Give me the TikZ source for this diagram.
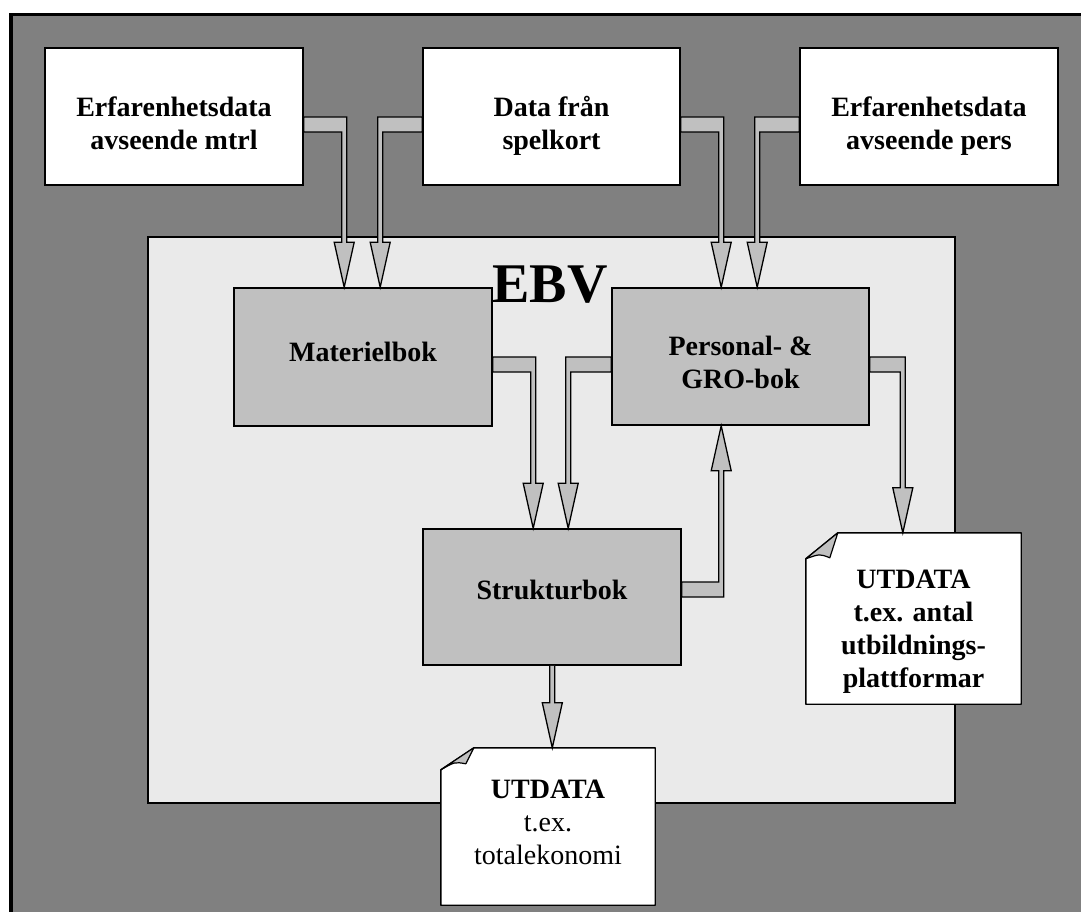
\documentclass[tikz,border=0pt]{standalone}
\usepackage{fontspec}
\setmainfont{Liberation Serif}
\usetikzlibrary{calc}
\definecolor{outergrey}{HTML}{808080}
\definecolor{ebvgrey}{HTML}{EAEAEA}
\definecolor{bookgrey}{HTML}{C0C0C0}
\newcommand\tstr{\rule{0pt}{22pt}}
\newcommand\bstr{\rule[-8pt]{0pt}{8pt}}
\newcommand\hvarrow[2]{%
\draw[arrowshape] let \p1=(#1), \p2=(#2), \n1={sign(\x2-\x1)}, \n2={sign(\y2-\y1)} in
 ({\x1},{\y1-(\n2)*7.5pt}) -- ({\x2+(\n1)*2.5pt},{\y1-(\n2)*7.5pt})
 -- ({\x2+(\n1)*2.5pt},{\y2-(\n2)*45pt}) -- ({\x2+(\n1)*10pt},{\y2-(\n2)*45pt})
 -- (\x2,\y2) -- ({\x2-(\n1)*10pt},{\y2-(\n2)*45pt}) -- ({\x2-(\n1)*2.5pt},{\y2-(\n2)*45pt})
 -- ({\x2-(\n1)*2.5pt},{\y1+(\n2)*7.5pt}) -- ({\x1},{\y1+(\n2)*7.5pt}) -- cycle;}
\newcommand\varrow[2]{%
\draw[arrowshape] let \p1=(#1), \p2=(#2) in
 ({\x2-2.5pt},{\y1}) -- ({\x2-2.5pt},{\y2+45pt}) -- ({\x2-10pt},{\y2+45pt})
 -- (\x2,\y2) -- ({\x2+10pt},{\y2+45pt}) -- ({\x2+2.5pt},{\y2+45pt}) -- ({\x2+2.5pt},{\y1});}
\tikzset{
 whitebox/.style={draw, fill=white, line width=1.6pt, inner sep=0pt, minimum width=258pt, minimum height=137pt},
 bookbox/.style={draw, fill=bookgrey, line width=1.6pt, inner sep=0pt, minimum width=258pt, minimum height=137pt},
 docarea/.style={inner sep=0pt},
 docline/.style={draw, fill=white, line width=1.4pt, line join=round},
 curl/.style={draw, fill=bookgrey, line width=1.2pt, line join=round},
 lbl/.style={font=\fontsize{28}{33}\selectfont\bfseries, align=center, inner sep=0pt},
 arrowshape/.style={draw=black, fill=bookgrey, line width=1.3pt, line join=miter}
}
\begin{document}
\begin{tikzpicture}[x=1pt,y=-1pt]
\useasboundingbox (0,0) rectangle (1081,912);
\clip (0,0) rectangle (1081,912);
\draw[line width=3.4pt, fill=outergrey] (11,14.3) rectangle (1100,930);

% top boxes
\node[whitebox] (b1) at (174,116.5) {};
\node[whitebox, minimum width=257pt] (b2) at (551.5,116.5) {};
\node[whitebox] (b3) at (929,116.5) {};
\node[lbl] (t1) at (174,126.5) {\tstr Erfarenhetsdata\\avseende mtrl\bstr};
\node[lbl] (t2) at (551.5,126.5) {\tstr Data från\\spelkort\bstr};
\node[lbl] (t3) at (929,126.5) {\tstr Erfarenhetsdata\\avseende pers\bstr};

% EBV area
\node[draw, fill=ebvgrey, line width=1.8pt, inner sep=0pt, minimum width=807pt, minimum height=566pt] (ebv) at (551.5,520) {};
\node[font=\fontsize{56}{60}\selectfont\bfseries, anchor=base, inner sep=0pt] (ebvt) at (550,302) {EBV};

% books
\node[bookbox, minimum height=138pt] (mat) at (363,357) {};
\node[bookbox, minimum width=257pt] (pers) at (740.5,356.5) {};
\node[bookbox, minimum height=136pt] (strukt) at (552,597) {};
\node[lbl, anchor=base] (tmat) at (363,361) {Materielbok};
\node[lbl] (tpers) at (740.5,364.5) {\tstr Personal- \&\\GRO-bok\bstr};
\node[lbl, anchor=base] (tstrukt) at (552,599) {Strukturbok};

% documents
\node[docarea, minimum width=215pt, minimum height=171pt] (docR) at (913.5,618.5) {};
\draw[docline] ($(docR.north west)+(0,26)$) -- ($(docR.north west)+(32,0)$) -- (docR.north east) -- (docR.south east) -- (docR.south west) -- cycle;
\draw[curl] ($(docR.north west)+(32,0)$) -- ($(docR.north west)+(24,25)$) .. controls ($(docR.north west)+(14,21)$) .. ($(docR.north west)+(0,26)$) -- cycle;
\node[lbl] (tdocR) at (913.5,630.5) {\tstr UTDATA\\t.ex. antal\\utbildnings-\\plattformar\bstr};

\node[docarea, minimum width=214pt, minimum height=157pt] (docB) at (548,826.5) {};
\draw[docline] ($(docB.north west)+(0,22)$) -- ($(docB.north west)+(33,0)$) -- (docB.north east) -- (docB.south east) -- (docB.south west) -- cycle;
\draw[curl] ($(docB.north west)+(33,0)$) -- ($(docB.north west)+(25,16)$) .. controls ($(docB.north west)+(14,14)$) .. ($(docB.north west)+(0,22)$) -- cycle;
\node[lbl, font=\fontsize{28}{33}\selectfont] (tdocB) at (548,824) {\tstr\textbf{UTDATA}\\t.ex.\\totalekonomi\bstr};

% arrows
\hvarrow{[yshift=-8pt]b1.east}{[xshift=111pt]mat.north west}
\hvarrow{[yshift=-8pt]b2.west}{[xshift=147pt]mat.north west}
\hvarrow{[yshift=-8pt]b2.east}{[xshift=110pt]pers.north west}
\hvarrow{[yshift=-8pt]b3.west}{[xshift=146pt]pers.north west}
\hvarrow{[yshift=-7.5pt]mat.east}{[xshift=111pt]strukt.north west}
\hvarrow{[yshift=-8pt]pers.west}{[xshift=146pt]strukt.north west}
\hvarrow{[yshift=-8pt]pers.east}{[xshift=97pt]docR.north west}
\hvarrow{[yshift=7.5pt]strukt.east}{[xshift=110pt]pers.south west}
\varrow{strukt.south}{[xshift=111.5pt]docB.north west}
\end{tikzpicture}
\end{document}
